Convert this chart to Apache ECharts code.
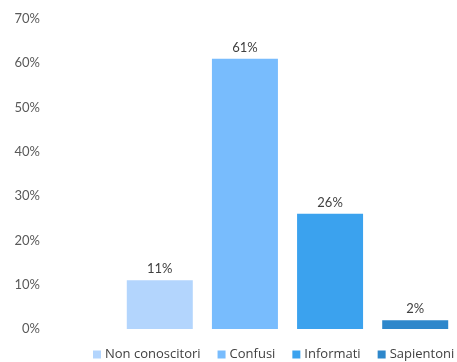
<!DOCTYPE html>
<html><head><meta charset="utf-8">
<script src="https://cdn.jsdelivr.net/npm/echarts@6/dist/echarts.min.js"></script>
<style>html,body{margin:0;padding:0;background:#fff}#c{width:457px;height:362px}</style>
</head><body><div id="c"></div>
<script>
var seriesNames = ['Non conoscitori', 'Confusi', 'Informati', 'Sapientoni'];
var seriesValues = [11, 61, 26, 2];
var colors = ['#b3d5fd', '#78bcfd', '#3ba2ee', '#2e87cb'];
var yTicks = [0, 10, 20, 30, 40, 50, 60, 70];

var chart = echarts.init(document.getElementById('c'));
var font = 'Lato, "Open Sans", sans-serif';
var series = seriesNames.map(function (n, i) {
  return {
    name: n, type: 'bar', data: [seriesValues[i]],
    barWidth: 66, barGap: '29%',
    itemStyle: { color: colors[i] },
    label: { show: true, position: 'top', distance: 5, formatter: '{c}%', color: '#404040', fontSize: 13, fontFamily: font }
  };
});
chart.setOption({
  animation: false,
  textStyle: { fontFamily: font },
  grid: { left: 118, right: 0, top: 19, bottom: 33 },
  xAxis: { type: 'category', data: [''], axisLine: { show: false }, axisTick: { show: false }, axisLabel: { show: false } },
  yAxis: {
    type: 'value', min: yTicks[0], max: yTicks[yTicks.length - 1], interval: 10,
    splitLine: { show: false }, axisLine: { show: false }, axisTick: { show: false },
    axisLabel: { formatter: '{value}%', color: '#595959', fontSize: 13, fontFamily: font, margin: 78 }
  },
  legend: {
    bottom: 1, left: 93, padding: 0, itemWidth: 8, itemHeight: 8, itemGap: 17, icon: 'rect',
    textStyle: { color: '#404040', fontSize: 13, fontFamily: '"Open Sans", sans-serif', padding: [0, 0, 0, -1] },
    data: seriesNames
  },
  series: series
});
</script></body></html>
